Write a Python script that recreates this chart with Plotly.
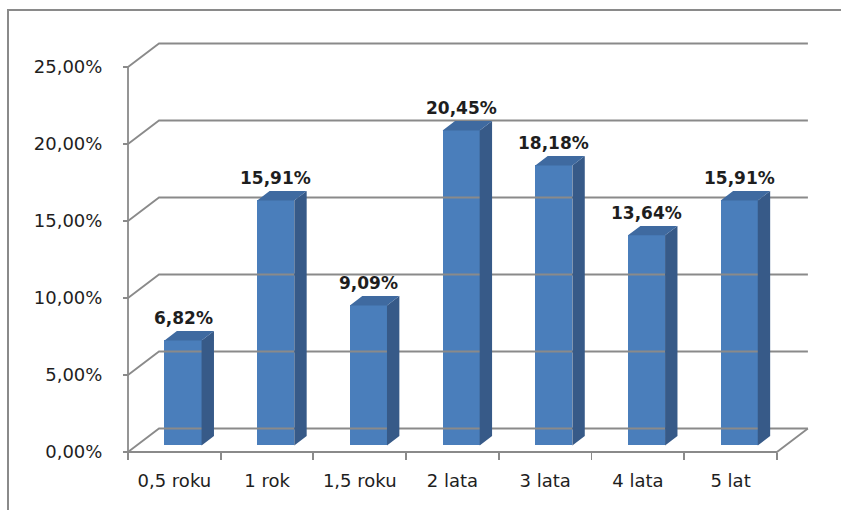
import plotly.graph_objects as go

# ---- data ----
categories = ["0,5 roku", "1 rok", "1,5 roku", "2 lata", "3 lata", "4 lata", "5 lat"]
values = [6.82, 15.91, 9.09, 20.45, 18.18, 13.64, 15.91]   # percent
y_ticks = [0, 5, 10, 15, 20, 25]
y_tick_labels = [f"{t:.2f}".replace(".", ",") + "%" for t in y_ticks]

# ---- geometry (pixels / units) ----
W, H = 841, 510
ux, uy = 92.7, 15.4          # px per category unit / per percent
x_axis_pix, y_axis_pix = 128, 452   # pixel of x=-0.5 and v=0
pl, pr, pt, pb = 121, 814, 39, 458  # plot area pixels
xr = [-0.5 + (pl - x_axis_pix) / ux, -0.5 + (pr - x_axis_pix) / ux]
yr = [(y_axis_pix - pb) / uy, (y_axis_pix - pt) / uy]

DX, DY = 31 / ux, 23.5 / uy     # full depth offset in data units
d0, d1 = 0.28, 0.68             # bar depth span
bw = 0.40                       # bar width

front_col = "#4a7ebb"
side_col = "#375a88"
top_col = "#3f6aa0"
grid_col = "#8a8a8a"
txt_col = "#1e1e1e"

n = len(categories)
xl, xrt = -0.5, n - 0.5
vmax = y_ticks[-1]

fig = go.Figure()

# gridlines (front diagonal + back wall line)
gx, gy = [], []
for t in y_ticks:
    gx += [xl, xl + DX, xrt + DX, None]
    gy += [t, t + DY, t + DY, None]
# floor front edge and right edge
gx += [xl, xrt, xrt + DX, None]
gy += [0, 0, DY, None]
# vertical axis line
gx += [xl, xl]
gy += [0, vmax]
fig.add_trace(go.Scatter(x=gx, y=gy, mode="lines",
                         line=dict(color=grid_col, width=1.8),
                         hoverinfo="skip", showlegend=False))

# bars: front faces
xs_front = [i + d0 * DX for i in range(n)]
fig.add_trace(go.Bar(x=xs_front, y=values, base=[d0 * DY] * n, width=bw,
                     marker=dict(color=front_col, line=dict(width=0)),
                     showlegend=False, hoverinfo="skip"))

# side & top faces
ddx, ddy = (d1 - d0) * DX, (d1 - d0) * DY
sx, sy, tx, ty = [], [], [], []
for i, v in enumerate(values):
    x0 = xs_front[i] - bw / 2
    x1 = xs_front[i] + bw / 2
    yb = d0 * DY
    yt = yb + v
    sx += [x1, x1, x1 + ddx, x1 + ddx, x1, None]
    sy += [yb, yt, yt + ddy, yb + ddy, yb, None]
    tx += [x0, x1, x1 + ddx, x0 + ddx, x0, None]
    ty += [yt, yt, yt + ddy, yt + ddy, yt, None]
fig.add_trace(go.Scatter(x=sx, y=sy, mode="lines", fill="toself",
                         fillcolor=side_col, line=dict(width=0, color=side_col),
                         hoverinfo="skip", showlegend=False))
fig.add_trace(go.Scatter(x=tx, y=ty, mode="lines", fill="toself",
                         fillcolor=top_col, line=dict(width=0, color=top_col),
                         hoverinfo="skip", showlegend=False))

# data labels
for i, v in enumerate(values):
    fig.add_annotation(x=xs_front[i], y=d0 * DY + v,
                       text="<b>" + f"{v:.2f}".replace(".", ",") + "%</b>",
                       showarrow=False, yanchor="bottom", yshift=10,
                       font=dict(family="DejaVu Sans", size=17, color=txt_col))

# outer border
fig.add_shape(type="rect", xref="paper", yref="paper",
              x0=(8 - pl) / (pr - pl), x1=(860 - pl) / (pr - pl),
              y0=(pb - 530) / (pb - pt), y1=(pb - 10) / (pb - pt),
              line=dict(color=grid_col, width=2), fillcolor="rgba(0,0,0,0)")

fig.update_layout(
    width=W, height=H,
    margin=dict(l=pl, r=W - pr, t=pt, b=H - pb),
    paper_bgcolor="white", plot_bgcolor="white",
    bargap=0,
    hovermode=False,
    font=dict(family="DejaVu Sans", size=18, color=txt_col),
    xaxis=dict(range=xr, showgrid=False, zeroline=False, showline=False,
               tickvals=list(range(n)), ticktext=categories, ticks="",
               anchor="free", position=(pb - y_axis_pix) / (pb - pt),
               ticklabelstandoff=16, fixedrange=True,
               minor=dict(ticks="outside", ticklen=7, tick0=-0.5, dtick=1,
                          tickcolor=grid_col, tickwidth=1.8, showgrid=False),
               tickfont=dict(family="DejaVu Sans", size=18, color=txt_col)),
    yaxis=dict(range=yr, showgrid=False, zeroline=False, showline=False,
               tickvals=y_ticks, ticktext=y_tick_labels,
               ticks="outside", ticklen=5, tickcolor=grid_col, tickwidth=1.8,
               anchor="free", position=(x_axis_pix - pl) / (pr - pl),
               ticklabelstandoff=17, fixedrange=True,
               tickfont=dict(family="DejaVu Sans", size=18, color=txt_col)),
)

fig.write_html("out.html",
               config={"displayModeBar": False, "staticPlot": True},
               post_script="document.body.style.margin='0';"
                           "document.body.style.overflow='hidden';")
